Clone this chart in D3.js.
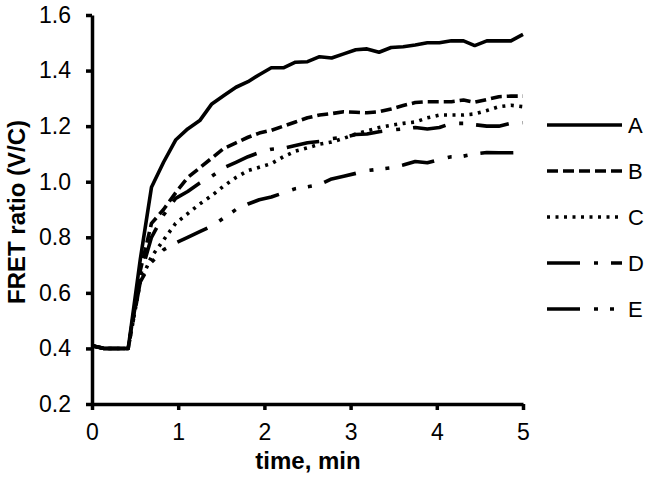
<!DOCTYPE html>
<html>
<head>
<meta charset="utf-8">
<script src="https://cdn.jsdelivr.net/npm/d3@7"></script>
<style>
  body { margin: 0; background: #fff; }
  svg { display: block; font-family: "Liberation Sans", Arial, sans-serif; }
  .axis path, .axis line { stroke: #000; stroke-width: 3.5; }
  .axis text { fill: #000; font-size: 23px; }
  .curve { fill: none; stroke: #000; stroke-width: 3.6; stroke-linejoin: round; }
</style>
</head>
<body>
<svg id="chart" width="653" height="479"></svg>
<script>
const svg = d3.select("#chart");

// sampling times (min), about every 8.3 s
const times = [0, 0.14, 0.28, 0.42, 0.56, 0.69, 0.83, 0.97, 1.11, 1.25, 1.39, 1.53, 1.67, 1.81, 1.94,
  2.08, 2.22, 2.36, 2.5, 2.64, 2.78, 2.92, 3.06, 3.19, 3.33, 3.47, 3.61, 3.75, 3.89, 4.03, 4.17,
  4.31, 4.44, 4.58, 4.72, 4.86, 5.0];

const seriesNames = ["A", "B", "C", "D", "E"];

const valuesA = [0.41, 0.40, 0.40, 0.40, 0.72, 0.98, 1.07, 1.15, 1.19, 1.22, 1.28, 1.31, 1.34, 1.36, 1.385,
  1.41, 1.41, 1.43, 1.432, 1.45, 1.445, 1.46, 1.475, 1.478, 1.466, 1.483, 1.486, 1.492, 1.50, 1.50, 1.507,
  1.507, 1.49, 1.507, 1.507, 1.507, 1.53];
const valuesB = [0.41, 0.40, 0.40, 0.40, 0.68, 0.85, 0.90, 0.96, 1.015, 1.05, 1.085, 1.12, 1.14, 1.16, 1.175,
  1.185, 1.20, 1.215, 1.23, 1.24, 1.245, 1.252, 1.25, 1.248, 1.252, 1.262, 1.274, 1.285, 1.288, 1.288, 1.288,
  1.294, 1.286, 1.296, 1.306, 1.308, 1.308];
const valuesC = [0.41, 0.40, 0.40, 0.40, 0.64, 0.73, 0.79, 0.85, 0.885, 0.92, 0.95, 0.985, 1.015, 1.04, 1.052,
  1.065, 1.09, 1.11, 1.122, 1.135, 1.143, 1.156, 1.172, 1.183, 1.195, 1.203, 1.21, 1.215, 1.23, 1.24, 1.24,
  1.24, 1.244, 1.256, 1.27, 1.275, 1.27];
const valuesD = [0.41, 0.40, 0.40, 0.40, 0.66, 0.80, 0.88, 0.94, 0.965, 0.995, 1.02, 1.05, 1.07, 1.09, 1.105,
  1.117, 1.12, 1.13, 1.14, 1.145, 1.155, 1.16, 1.17, 1.172, 1.18, 1.186, 1.19, 1.195, 1.19, 1.195, 1.21,
  1.21, 1.205, 1.20, 1.20, 1.21, 1.212];
const valuesE = [0.41, 0.40, 0.40, 0.40, 0.64, 0.71, 0.755, 0.78, 0.80, 0.82, 0.84, 0.87, 0.90, 0.92, 0.935,
  0.945, 0.96, 0.975, 0.982, 0.99, 1.01, 1.02, 1.03, 1.04, 1.045, 1.05, 1.06, 1.073, 1.068, 1.08, 1.09,
  1.092, 1.10, 1.105, 1.104, 1.104, 1.105];

const xTicks = [0, 1, 2, 3, 4, 5];
const yTicks = [0.2, 0.4, 0.6, 0.8, 1.0, 1.2, 1.4, 1.6];

// line styles per series (Excel-like dash patterns)
const dashes = [null, "11,5", "3,5.5", "33,14,4,13", "33,14,4,12,4,13"];

const x = d3.scaleLinear().domain([0, 5]).range([92, 523]);
const y = d3.scaleLinear().domain([0.2, 1.6]).range([404, 15]);

const allValues = [valuesA, valuesB, valuesC, valuesD, valuesE];
const series = seriesNames.map((name, i) => ({
  name,
  dash: dashes[i],
  points: times.map((t, j) => [t, allValues[i][j]])
}));

// axes
svg.append("g")
  .attr("class", "axis")
  .attr("transform", `translate(0,${y(0.2)})`)
  .call(d3.axisBottom(x).tickValues(xTicks).tickFormat(d3.format("d")).tickSizeInner(6).tickSizeOuter(0).tickPadding(14));

svg.append("g")
  .attr("class", "axis")
  .attr("transform", `translate(${x(0)},0)`)
  .call(d3.axisLeft(y).tickValues(yTicks).tickFormat(d3.format(".1f")).tickSizeInner(6).tickSizeOuter(0).tickPadding(15));

// curves
const line = d3.line().x(d => x(d[0])).y(d => y(d[1]));

svg.append("g").selectAll("path")
  .data(series)
  .join("path")
  .attr("class", "curve")
  .attr("d", d => line(d.points))
  .attr("stroke-dasharray", d => d.dash);

// axis titles
svg.append("text")
  .attr("x", 308)
  .attr("y", 469)
  .attr("text-anchor", "middle")
  .attr("font-weight", "bold")
  .attr("font-size", 24)
  .text("time, min");

svg.append("text")
  .attr("transform", "translate(25,212) rotate(-90)")
  .attr("text-anchor", "middle")
  .attr("font-weight", "bold")
  .attr("font-size", 24)
  .text("FRET ratio (V/C)");

// legend
const legend = svg.append("g").selectAll("g")
  .data(series)
  .join("g")
  .attr("transform", (d, i) => `translate(547,${125 + i * 46})`);

legend.append("line")
  .attr("class", "curve")
  .attr("x1", 0).attr("x2", 75)
  .attr("stroke-dasharray", d => d.dash);

legend.append("text")
  .attr("x", 81)
  .attr("dy", "0.36em")
  .attr("font-size", 22)
  .text(d => d.name);
</script>
</body>
</html>
